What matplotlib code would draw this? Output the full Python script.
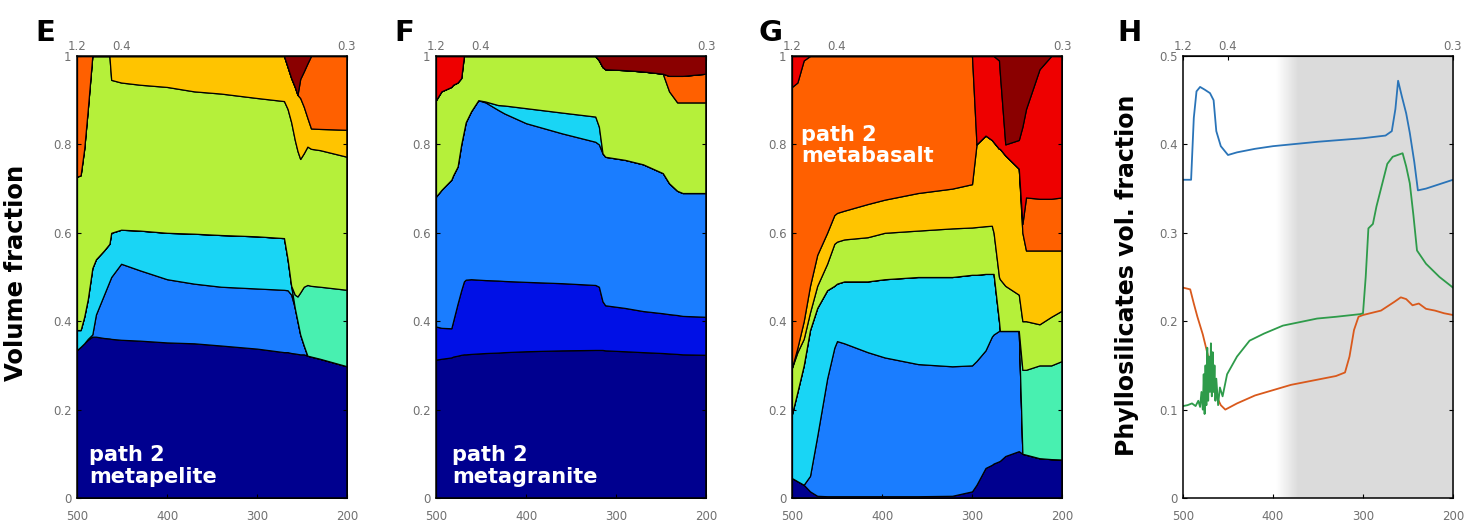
import numpy as np
import matplotlib.pyplot as plt

plt.rcParams['font.family'] = ['DejaVu Sans']

# phase colours (jet-like, as in the original MATLAB figure)
navy = '#00008F'
blue = '#0010E6'
dodger = '#1A7DFF'
cyan = '#19D5F5'
aqua = '#48F0B0'
ygreen = '#B5F03A'
gold = '#FFC400'
orange = '#FF6000'
red = '#EE0000'
darkred = '#8A0000'

top_ticks = [500, 450, 200]
top_labels = ['1.2', '0.4', '0.3']

# ---- panel E, metapelite: upper edge of each phase band (cumulative) ----
TE = [500, 496, 492, 488, 483, 479, 470, 464, 462, 451, 430, 400, 370, 340, 300,
      270, 266, 262, 258, 255, 252, 248, 244, 240, 230, 200]
E_navy = [0.335, 0.342, 0.35, 0.358, 0.365, 0.365, 0.362, 0.361, 0.36, 0.358, 0.356, 0.352, 0.35,
          0.345, 0.338, 0.33, 0.33, 0.328, 0.327, 0.326, 0.325, 0.325, 0.322, 0.32, 0.315, 0.298]
E_blue = [0.335, 0.342, 0.35, 0.36, 0.37, 0.415, 0.46, 0.49, 0.50, 0.53, 0.515, 0.495, 0.485,
          0.478, 0.474, 0.471, 0.47, 0.46, 0.43, 0.40, 0.37, 0.345, 0.322, 0.32, 0.315, 0.298]
E_cyan = [0.38, 0.38, 0.41, 0.45, 0.52, 0.54, 0.56, 0.575, 0.60, 0.607, 0.605, 0.60, 0.598,
          0.595, 0.592, 0.588, 0.54, 0.48, 0.43, 0.40, 0.37, 0.345, 0.322, 0.32, 0.315, 0.298]
E_aqua = [0.38, 0.38, 0.41, 0.45, 0.52, 0.54, 0.56, 0.575, 0.60, 0.607, 0.605, 0.60, 0.598,
          0.595, 0.592, 0.588, 0.54, 0.48, 0.46, 0.456, 0.465, 0.478, 0.482, 0.48, 0.478, 0.471]
E_ygreen = [0.727, 0.73, 0.79, 0.88, 1.0, 1.0, 1.0, 1.0, 0.946, 0.94, 0.935, 0.93, 0.92,
            0.915, 0.905, 0.898, 0.88, 0.85, 0.81, 0.785, 0.767, 0.78, 0.795, 0.79, 0.787, 0.772]
E_gold = [0.727, 0.73, 0.79, 0.88, 1.0, 1.0, 1.0, 1.0, 1.0, 1.0, 1.0, 1.0, 1.0,
          1.0, 1.0, 1.0, 0.975, 0.95, 0.93, 0.912, 0.905, 0.885, 0.86, 0.836, 0.835, 0.833]
E_orange = [1.0, 1.0, 1.0, 1.0, 1.0, 1.0, 1.0, 1.0, 1.0, 1.0, 1.0, 1.0, 1.0,
            1.0, 1.0, 1.0, 0.975, 0.95, 0.93, 0.912, 0.948, 0.965, 0.983, 1.0, 1.0, 1.0]
E_darkred = [1.0] * len(TE)

# ---- panel F, metagranite ----
TF = [500, 494, 483, 481, 476, 472, 469, 467, 461, 453, 445, 431, 424, 400, 360, 323,
      319, 315, 312, 290, 270, 248, 241, 232, 226, 200]
F_navy = [0.313, 0.315, 0.318, 0.32, 0.322, 0.324, 0.325, 0.325, 0.326, 0.327, 0.328, 0.329, 0.33,
          0.332, 0.334, 0.335, 0.335, 0.335, 0.334, 0.332, 0.33, 0.328, 0.327, 0.326, 0.325, 0.324]
F_blue = [0.388, 0.385, 0.384, 0.40, 0.44, 0.47, 0.49, 0.494, 0.495, 0.494, 0.493, 0.492, 0.491,
          0.489, 0.486, 0.482, 0.478, 0.445, 0.436, 0.43, 0.423, 0.418, 0.416, 0.414, 0.412, 0.41]
F_dodger = [0.682, 0.697, 0.72, 0.73, 0.75, 0.80, 0.83, 0.85, 0.875, 0.90, 0.895, 0.878, 0.87,
            0.848, 0.825, 0.806, 0.80, 0.78, 0.772, 0.765, 0.755, 0.735, 0.712, 0.695, 0.69, 0.69]
F_cyan = [0.682, 0.697, 0.72, 0.73, 0.75, 0.80, 0.83, 0.85, 0.875, 0.90, 0.897, 0.889, 0.888,
          0.882, 0.872, 0.863, 0.84, 0.78, 0.772, 0.765, 0.755, 0.735, 0.712, 0.695, 0.69, 0.69]
F_ygreen = [0.90, 0.92, 0.93, 0.935, 0.94, 0.95, 1.0, 1.0, 1.0, 1.0, 1.0, 1.0, 1.0,
            1.0, 1.0, 1.0, 0.99, 0.975, 0.97, 0.968, 0.965, 0.96, 0.92, 0.895, 0.895, 0.895]
F_orange = [0.90, 0.92, 0.93, 0.935, 0.94, 0.95, 1.0, 1.0, 1.0, 1.0, 1.0, 1.0, 1.0,
            1.0, 1.0, 1.0, 0.99, 0.975, 0.97, 0.968, 0.965, 0.96, 0.955, 0.955, 0.955, 0.96]
F_red = [1.0, 1.0, 1.0, 1.0, 1.0, 1.0, 1.0, 1.0, 1.0, 1.0, 1.0, 1.0, 1.0,
         1.0, 1.0, 1.0, 0.99, 0.975, 0.97, 0.968, 0.965, 0.96, 0.955, 0.955, 0.955, 0.96]
F_darkred = [1.0] * len(TF)

# ---- panel G, metabasalt ----
TG = [500, 494, 487, 480, 472, 461, 453, 450, 442, 416, 397, 360, 322, 300, 295, 285,
      278, 276, 270, 269, 263, 248, 244, 240, 225, 212, 200]
G_navy = [0.045, 0.038, 0.03, 0.015, 0.005, 0.004, 0.004, 0.004, 0.004, 0.004, 0.004, 0.004,
          0.005, 0.015, 0.03, 0.068, 0.075, 0.078, 0.083, 0.084, 0.095, 0.106, 0.10, 0.098,
          0.09, 0.088, 0.087]
G_dodger = [0.045, 0.038, 0.03, 0.05, 0.14, 0.27, 0.34, 0.355, 0.35, 0.33, 0.318, 0.303,
            0.298, 0.30, 0.31, 0.334, 0.365, 0.37, 0.378, 0.378, 0.378, 0.378, 0.10, 0.098,
            0.09, 0.088, 0.087]
G_cyan = [0.19, 0.24, 0.30, 0.38, 0.43, 0.47, 0.48, 0.485, 0.49, 0.49, 0.495, 0.50,
          0.50, 0.505, 0.505, 0.507, 0.507, 0.507, 0.40, 0.378, 0.378, 0.378, 0.10, 0.098,
          0.09, 0.088, 0.087]
G_aqua = [0.19, 0.24, 0.30, 0.38, 0.43, 0.47, 0.48, 0.485, 0.49, 0.49, 0.495, 0.50,
          0.50, 0.505, 0.505, 0.507, 0.507, 0.507, 0.40, 0.378, 0.378, 0.378, 0.29, 0.29,
          0.30, 0.30, 0.31]
G_ygreen = [0.295, 0.33, 0.36, 0.42, 0.48, 0.53, 0.575, 0.58, 0.585, 0.59, 0.60, 0.605,
            0.61, 0.612, 0.613, 0.615, 0.616, 0.60, 0.50, 0.495, 0.48, 0.46, 0.40, 0.40,
            0.393, 0.41, 0.424]
G_gold = [0.295, 0.34, 0.40, 0.48, 0.55, 0.60, 0.64, 0.645, 0.65, 0.665, 0.675, 0.69,
          0.70, 0.71, 0.80, 0.82, 0.81, 0.805, 0.79, 0.79, 0.775, 0.745, 0.60, 0.56,
          0.56, 0.56, 0.56]
G_orange = [0.93, 0.94, 0.99, 1.0, 1.0, 1.0, 1.0, 1.0, 1.0, 1.0, 1.0, 1.0,
            1.0, 1.0, 0.80, 0.82, 0.81, 0.805, 0.79, 0.79, 0.775, 0.745, 0.62, 0.68,
            0.677, 0.677, 0.68]
G_red = [1.0, 1.0, 1.0, 1.0, 1.0, 1.0, 1.0, 1.0, 1.0, 1.0, 1.0, 1.0,
         1.0, 1.0, 1.0, 1.0, 1.0, 1.0, 0.99, 0.96, 0.80, 0.81, 0.84, 0.88,
         0.97, 1.0, 1.0]
G_darkred = [1.0] * len(TG)

# ---- panel H, phyllosilicates ----
blue_T = [500, 491, 488, 485, 481, 476, 470, 466, 463, 458, 450, 440, 420, 400, 350, 300,
          275, 268, 264, 261, 257, 252, 248, 243, 239, 230, 215, 200]
blue_v = [0.36, 0.36, 0.43, 0.46, 0.465, 0.462, 0.458, 0.45, 0.415, 0.398, 0.388, 0.391,
          0.395, 0.398, 0.403, 0.407, 0.41, 0.415, 0.44, 0.472, 0.455, 0.435, 0.413, 0.38,
          0.348, 0.350, 0.355, 0.36]
orange_T = [500, 492, 488, 484, 478, 472, 468, 465, 458, 453, 440, 420, 400, 380, 350, 330,
            320, 315, 310, 305, 300, 280, 265, 258, 252, 245, 238, 230, 220, 210, 200]
orange_v = [0.238, 0.236, 0.22, 0.205, 0.185, 0.16, 0.14, 0.12, 0.105, 0.10, 0.107, 0.116,
            0.122, 0.128, 0.134, 0.138, 0.142, 0.16, 0.19, 0.205, 0.207, 0.212, 0.222, 0.227,
            0.225, 0.218, 0.22, 0.214, 0.212, 0.209, 0.207]
green_T = [500, 495, 490, 486, 483, 481, 479.5, 478, 477, 476, 475, 474, 473, 472, 471, 470,
           469, 468, 467, 466, 465, 464, 463, 461, 459, 456, 451, 440, 426, 410, 389, 370,
           351, 330, 303, 300, 297, 294, 289, 285, 280, 273, 267, 256, 252, 248, 244, 240,
           230, 215, 200]
green_v = [0.104, 0.105, 0.107, 0.104, 0.11, 0.103, 0.12, 0.10, 0.14, 0.095, 0.15, 0.105,
           0.17, 0.11, 0.16, 0.12, 0.175, 0.115, 0.165, 0.12, 0.15, 0.11, 0.135, 0.105,
           0.125, 0.115, 0.14, 0.16, 0.178, 0.186, 0.195, 0.199, 0.203, 0.205, 0.208, 0.209,
           0.25, 0.305, 0.31, 0.33, 0.35, 0.378, 0.386, 0.39, 0.375, 0.356, 0.32, 0.28,
           0.265, 0.25, 0.238]


def stack_panel(ax, temps, tops, colors):
    """ fill each phase band between consecutive upper edges """
    lower = np.zeros(len(temps))
    for top, col in zip(tops, colors):
        top = np.asarray(top, dtype=float)
        ax.fill_between(temps, lower, top, facecolor=col, edgecolor='k',
                        linewidth=0.9, zorder=1)
        lower = top


def style_axes(ax, ymax, yticks, ylabels):
    ax.set_xlim(500, 200)
    ax.set_ylim(0, ymax)
    ax.set_xticks([500, 400, 300, 200])
    ax.set_yticks(yticks)
    ax.set_yticklabels(ylabels)
    ax.tick_params(direction='in', right=True, length=3, width=0.8,
                   labelsize=8.5, labelcolor='#707070')
    ax.tick_params(axis='x', pad=9)
    ax.tick_params(axis='y', pad=4)
    for sp in ax.spines.values():
        sp.set_linewidth(1.1)
        sp.set_zorder(5)
    sec = ax.secondary_xaxis('top')
    sec.set_xticks(top_ticks)
    sec.set_xticklabels(top_labels)
    sec.tick_params(direction='in', length=3, width=0.8, labelsize=8.5,
                    labelcolor='#707070', pad=2)


W, H = 1467, 530
fig = plt.figure(figsize=(W / 100, H / 100), dpi=100)
fig.patch.set_facecolor('white')

lefts = [77, 436, 792, 1183]
axes = [fig.add_axes([l / W, 32 / H, 270 / W, 442 / H]) for l in lefts]
axE, axF, axG, axH = axes

frac_ticks = [0, 0.2, 0.4, 0.6, 0.8, 1]
frac_labels = ['0', '0.2', '0.4', '0.6', '0.8', '1']

stack_panel(axE, TE, [E_navy, E_blue, E_cyan, E_aqua, E_ygreen, E_gold, E_orange, E_darkred],
            [navy, dodger, cyan, aqua, ygreen, gold, orange, darkred])
stack_panel(axF, TF, [F_navy, F_blue, F_dodger, F_cyan, F_ygreen, F_orange, F_red, F_darkred],
            [navy, blue, dodger, cyan, ygreen, orange, red, darkred])
stack_panel(axG, TG, [G_navy, G_dodger, G_cyan, G_aqua, G_ygreen, G_gold, G_orange, G_red,
                      G_darkred],
            [navy, dodger, cyan, aqua, ygreen, gold, orange, red, darkred])
for ax in (axE, axF, axG):
    style_axes(ax, 1, frac_ticks, frac_labels)

# shaded window in H, fading in from the left
shade = np.ones((1, 200, 4))
shade[..., :3] = 0.86
shade[0, :, 3] = np.clip(np.linspace(0, 8, 200), 0, 1)
axH.imshow(shade, extent=(397, 200, 0, 0.5), aspect='auto', zorder=0,
           interpolation='bilinear')
axH.plot(blue_T, blue_v, color='#2A74B8', lw=1.3, zorder=3)
axH.plot(orange_T, orange_v, color='#D9591C', lw=1.3, zorder=3)
axH.plot(green_T, green_v, color='#2E9B4A', lw=1.3, zorder=4)
style_axes(axH, 0.5, [0, 0.1, 0.2, 0.3, 0.4, 0.5], ['0', '0.1', '0.2', '0.3', '0.4', '0.5'])

txt = dict(color='white', fontsize=15, fontweight='bold', linespacing=1.1)
axE.text(0.045, 0.025, 'path 2\nmetapelite', transform=axE.transAxes,
         ha='left', va='bottom', **txt)
axF.text(0.06, 0.025, 'path 2\nmetagranite', transform=axF.transAxes,
         ha='left', va='bottom', **txt)
axG.text(0.035, 0.845, 'path 2\nmetabasalt', transform=axG.transAxes,
         ha='left', va='top', **txt)

for letter, x in zip('EFGH', [45, 404, 770, 1130]):
    fig.text(x / W, 1 - 33 / H, letter, fontsize=21, fontweight='bold',
             ha='center', va='center')

fig.text(16 / W, 1 - 273 / H, 'Volume fraction', rotation=90, fontsize=17.5,
         fontweight='bold', ha='center', va='center')
fig.text(1127 / W, 1 - 275 / H, 'Phyllosilicates vol. fraction', rotation=90,
         fontsize=17, fontweight='bold', ha='center', va='center')

fig.savefig('out.png', dpi=100, facecolor='white')
